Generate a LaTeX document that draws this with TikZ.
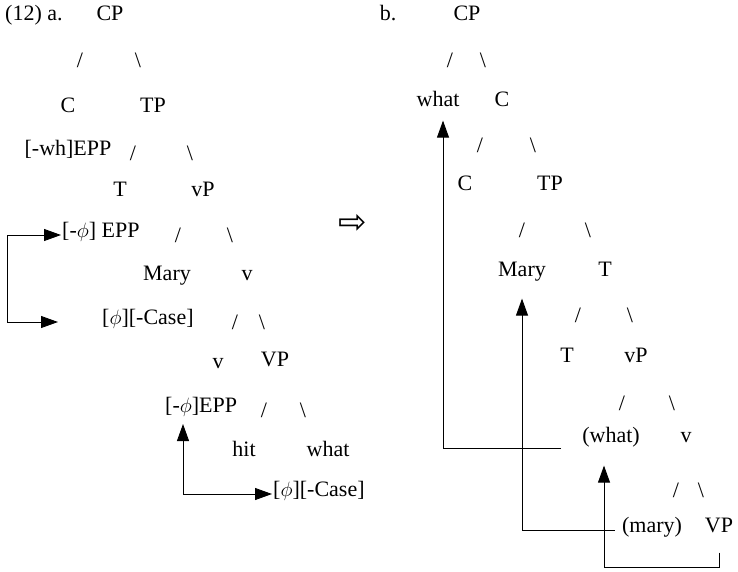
\documentclass[tikz,border=0pt]{standalone}
\usepackage{fontspec}
\setmainfont{Liberation Serif}
\newfontfamily\arrowfont{DejaVu Sans}
\usetikzlibrary{arrows.meta}

\begin{document}
\begin{tikzpicture}[x=1pt,y=-1pt,font=\fontsize{22}{26}\selectfont,
	word/.style={inner sep=1pt,text height=0.68em,text depth=0.2em},
	feat/.style={word,anchor=west},
	slash/.style={inner sep=0pt},
	tip/.style={line width=0.9pt,-{Triangle[length=17pt,width=12pt]}},
	twotips/.style={line width=0.9pt,{Triangle[length=17pt,width=12pt]}-{Triangle[length=17pt,width=12pt]}}]
	\useasboundingbox (0,0) rectangle (738,571);
	% (12) a.
	\node [feat] (aLabel) at (4,18) {(12) a.};
	\node [word] (aCP) at (110,18) {CP};
	\node [slash] (aCPl) at (80,60) {/};
	\node [slash] (aCPr) at (138,60) {\textbackslash};
	\node [word] (aC) at (68,110) {C};
	\node [word] (aTP) at (153,110) {TP};
	\node [word] (aCfeat) at (68,153) {[-wh]EPP};
	\node [slash] (aTPl) at (133,153) {/};
	\node [slash] (aTPr) at (190,153) {\textbackslash};
	\node [word] (aT) at (120,194) {T};
	\node [word] (avP) at (203,194) {vP};
	\node [feat] (aTfeat) at (61,235) {[-$\phi$] EPP};
	\node [slash] (avPl) at (178,235) {/};
	\node [slash] (avPr) at (230,235) {\textbackslash};
	\node [word] (aMary) at (167,278) {Mary};
	\node [word] (av) at (247,278) {v};
	\node [feat] (aMaryfeat) at (101,322) {[$\phi$][-Case]};
	\node [slash] (avl) at (235,322) {/};
	\node [slash] (avr) at (262,322) {\textbackslash};
	\node [word] (avv) at (218,366) {v};
	\node [word] (aVP) at (275,364) {VP};
	\node [feat] (avfeat) at (164,410) {[-$\phi$]EPP};
	\node [slash] (aVPl) at (264,410) {/};
	\node [slash] (aVPr) at (303,410) {\textbackslash};
	\node [word] (ahit) at (244,454) {hit};
	\node [word] (awhat) at (328,454) {what};
	\node [feat] (awhatfeat) at (272,494) {[$\phi$][-Case]};
	\coordinate (aLoopTop) at (7,235);
	\coordinate (aLoopEnd) at (58,322);
	\coordinate (avUp) at (183,424);
	\draw [twotips] (aTfeat.west) -- (aLoopTop) |- (aLoopEnd);
	\draw [twotips] (avUp) |- (awhatfeat.west);

	\node [word] (shift) at (353,231) {\arrowfont\fontsize{34}{34}\selectfont ⇨};

	% b.
	\node [word] (bLabel) at (388,18) {b.};
	\node [word] (bCP) at (467,18) {CP};
	\node [slash] (bCPl) at (450,60) {/};
	\node [slash] (bCPr) at (483,60) {\textbackslash};
	\node [word] (bwhat) at (438,104) {what};
	\node [word] (bC) at (502,104) {C};
	\node [slash] (bCl) at (480,145) {/};
	\node [slash] (bCr) at (533,145) {\textbackslash};
	\node [word] (bCC) at (465,188) {C};
	\node [word] (bTP) at (550,188) {TP};
	\node [slash] (bTPl) at (522,230) {/};
	\node [slash] (bTPr) at (588,230) {\textbackslash};
	\node [word] (bMary) at (522,274) {Mary};
	\node [word] (bT) at (605,274) {T};
	\node [slash] (bTl) at (578,315) {/};
	\node [slash] (bTr) at (630,315) {\textbackslash};
	\node [word] (bTT) at (567,360) {T};
	\node [word] (bvP) at (636,360) {vP};
	\node [slash] (bvPl) at (622,403) {/};
	\node [slash] (bvPr) at (672,403) {\textbackslash};
	\node [word] (bwh) at (611,440) {(what)};
	\node [word] (bv) at (686,440) {v};
	\node [slash] (bvl) at (676,490) {/};
	\node [slash] (bvr) at (701,490) {\textbackslash};
	\node [word] (bmary) at (652,530) {(mary)};
	\node [word] (bVP) at (719,530) {VP};
	\coordinate (bTurn) at (604,567);
	\draw [tip] ([xshift=-20pt,yshift=-8pt]bwh.west) -| ([xshift=5pt,yshift=-11pt]bwhat.south);
	\draw [tip] ([xshift=-6pt]bmary.west) -| ([yshift=-19pt]bMary.south);
	\draw [tip] ([yshift=-17pt]bVP.south) |- (bTurn) -- ([xshift=-7pt,yshift=-20pt]bwh.south);
\end{tikzpicture}
\end{document}
